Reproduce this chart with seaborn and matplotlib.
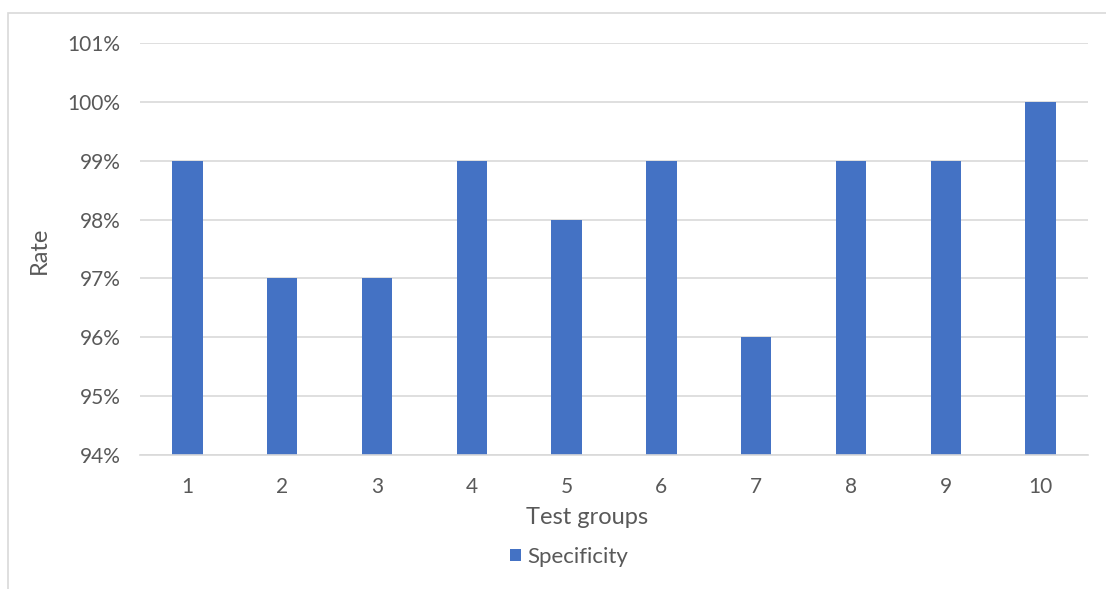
import numpy as np
import pandas as pd
import seaborn as sns
import matplotlib.pyplot as plt
from matplotlib.patches import Rectangle
from matplotlib.ticker import PercentFormatter, MultipleLocator

sns.set_theme(style="white")
plt.rcParams['font.family'] = ['Lato', 'DejaVu Sans']

groups = ["1", "2", "3", "4", "5", "6", "7", "8", "9", "10"]
specificity = [0.99, 0.97, 0.97, 0.99, 0.98, 0.99, 0.96, 0.99, 0.99, 1.00]

df = pd.DataFrame({"Test groups": groups, "Rate": specificity})

text_color = "#595959"
grid_color = "#D9D9D9"
bar_color = "#4472C4"

f = plt.figure(figsize=(11.06, 5.89), dpi=100)
ax = f.add_axes([140 / 1106, 1 - 455 / 589, 948 / 1106, 412 / 589])

# chart area frame (only left/top edge visible in the crop)
f.patches.append(Rectangle((8 / 1106, -0.1), 1.2, 1 - 13 / 589 + 0.1,
                           transform=f.transFigure, fill=False,
                           edgecolor=grid_color, linewidth=1.2))

sns.barplot(data=df, x="Test groups", y="Rate", color=bar_color, width=0.32,
            saturation=1, label="Specificity", linewidth=0, ax=ax)

ax.set_ylim(0.94, 1.01)
ax.yaxis.set_major_locator(MultipleLocator(0.01))
ax.yaxis.set_major_formatter(PercentFormatter(1.0, decimals=0))
ax.grid(axis="y", color=grid_color, linewidth=1.2)
ax.set_axisbelow(True)
for s in ["top", "right", "left"]:
    ax.spines[s].set_visible(False)
ax.spines["bottom"].set_color(grid_color)
ax.spines["bottom"].set_linewidth(1.2)
ax.tick_params(axis="both", length=0, labelsize=15, colors=text_color)
ax.tick_params(axis="y", pad=14)
ax.tick_params(axis="x", pad=16)

ax.set_xlabel("Test groups", fontsize=17, color=text_color)
ax.set_ylabel("Rate", fontsize=17, color=text_color)
ax.xaxis.set_label_coords((587 - 140) / 948, (455 - 507) / 412)
ax.yaxis.set_label_coords((50 - 140) / 948, (455 - 250) / 412)

leg = ax.legend(loc="center", bbox_to_anchor=(569 / 1106, 1 - 557 / 589),
                bbox_transform=f.transFigure, frameon=False, fontsize=16,
                handlelength=0.5, handleheight=0.5, handletextpad=0.25)
for t in leg.get_texts():
    t.set_color(text_color)

f.savefig("out.png", dpi=100)
